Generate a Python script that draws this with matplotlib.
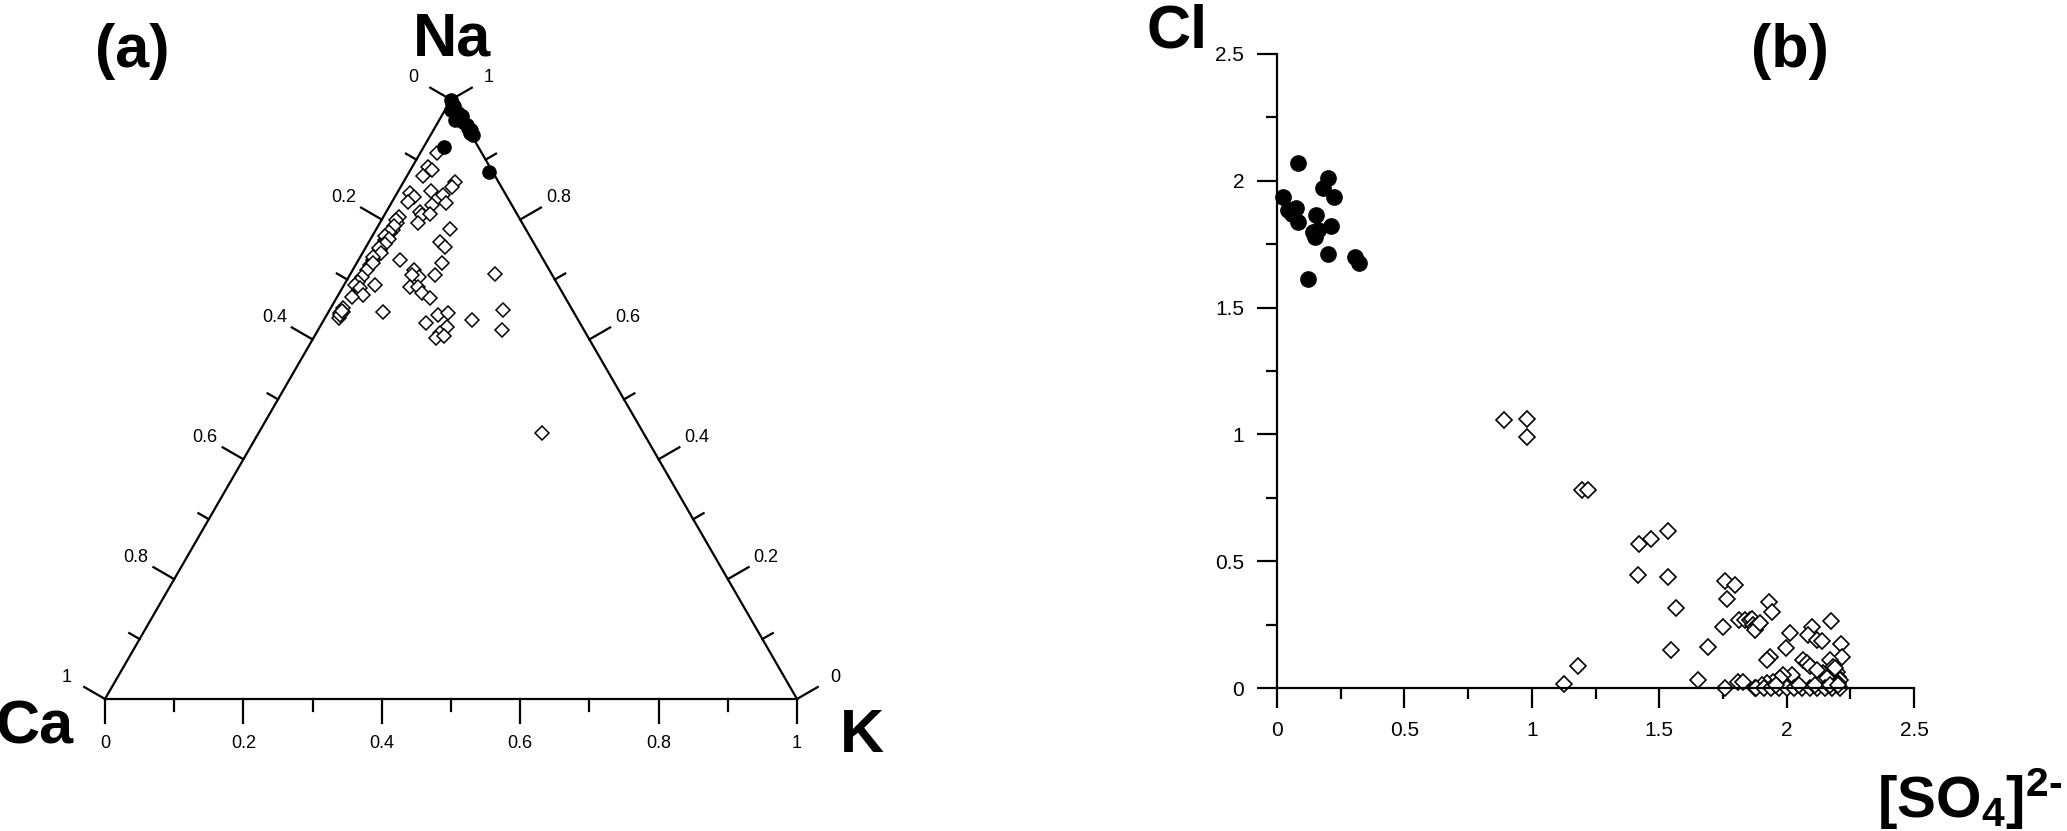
import numpy as np
import matplotlib
matplotlib.use('Agg')
import matplotlib.pyplot as plt
from matplotlib import font_manager
from matplotlib.ticker import MultipleLocator

plt.rcParams['font.family'] = ['Liberation Sans', 'DejaVu Sans']
plt.rcParams['mathtext.fontset'] = 'custom'
plt.rcParams['mathtext.rm'] = 'Liberation Sans'
plt.rcParams['mathtext.bf'] = 'Liberation Sans:bold'

# narrow face for the ternary tick labels, if present
names = {f.name for f in font_manager.fontManager.ttflist}
narrow = 'Liberation Sans Narrow' if 'Liberation Sans Narrow' in names else 'Liberation Sans'

# ---- (a) ternary data: Na and K fractions (Ca = 1 - Na - K) ----
na_circ = [1.00, 0.995, 0.989, 0.982, 0.978, 0.972, 0.966, 0.962, 0.958, 0.953,
           0.949, 0.944, 0.941, 0.921, 0.879]
k_circ = [0.000, 0.004, 0.010, 0.009, 0.021, 0.030, 0.023, 0.036, 0.044, 0.048,
          0.055, 0.055, 0.062, 0.029, 0.115]

na_diam = [0.911, 0.888, 0.883, 0.872, 0.863, 0.855, 0.847, 0.844, 0.838, 0.841,
           0.830, 0.824, 0.827, 0.813, 0.808, 0.810, 0.794, 0.785, 0.763, 0.755,
           0.805, 0.794, 0.783, 0.777, 0.766, 0.758, 0.749, 0.741, 0.733, 0.724,
           0.716, 0.705, 0.696, 0.691, 0.685, 0.674, 0.671, 0.652, 0.644, 0.635,
           0.800, 0.790, 0.780, 0.772, 0.768, 0.760, 0.752, 0.745, 0.738, 0.728,
           0.645, 0.640, 0.648,
           0.691, 0.733, 0.727, 0.708, 0.716, 0.705, 0.708, 0.688, 0.688, 0.677,
           0.669, 0.710, 0.646, 0.627, 0.641, 0.644, 0.621, 0.610, 0.602, 0.605,
           0.632, 0.649, 0.616, 0.444]
k_diam = [0.024, 0.023, 0.031, 0.024, 0.074, 0.074, 0.048, 0.019, 0.027, 0.068,
          0.023, 0.060, 0.079, 0.049, 0.054, 0.065, 0.056, 0.106, 0.103, 0.114,
          0.023, 0.025, 0.025, 0.023, 0.022, 0.021, 0.023, 0.022, 0.021, 0.021,
          0.020, 0.019, 0.018, 0.016, 0.026, 0.036, 0.021, 0.018, 0.018, 0.020,
          0.020, 0.022, 0.020, 0.019, 0.026, 0.025, 0.020, 0.026, 0.019, 0.024,
          0.022, 0.020, 0.019,
          0.045, 0.060, 0.123, 0.123, 0.088, 0.101, 0.090, 0.097, 0.109, 0.119,
          0.135, 0.208, 0.079, 0.151, 0.161, 0.174, 0.183, 0.179, 0.178, 0.187,
          0.214, 0.251, 0.265, 0.410]

tick_vals = [0, 0.1, 0.2, 0.3, 0.4, 0.5, 0.6, 0.7, 0.8, 0.9, 1.0]

# ---- (b) scatter data: SO4 vs Cl ----
so4_circ = [0.084, 0.201, 0.179, 0.224, 0.025, 0.044, 0.075, 0.084, 0.152, 0.142,
            0.162, 0.211, 0.201, 0.306, 0.323, 0.123, 0.060, 0.150]
cl_circ = [2.071, 2.010, 1.970, 1.935, 1.935, 1.885, 1.892, 1.839, 1.865, 1.799,
           1.806, 1.822, 1.711, 1.701, 1.675, 1.612, 1.870, 1.780]

so4_diam = [0.892, 0.982, 0.982, 1.198, 1.222,
            1.533, 1.421, 1.467, 1.417, 1.533, 1.565, 1.548, 1.693, 1.654, 1.183, 1.126,
            1.758, 1.797, 1.767, 1.749, 1.758, 1.810,
            1.814, 1.837, 1.856, 1.863, 1.869, 1.876, 1.889, 1.876, 1.896,
            1.932, 1.941, 2.013, 1.998, 1.935, 1.922,
            2.098, 2.085, 2.118, 2.138, 2.174, 2.213, 2.216,
            2.066, 2.079, 2.092,
            2.170, 2.183, 2.197, 2.203, 2.144, 2.157, 2.118, 2.210, 2.200, 2.190,
            2.020, 1.987, 1.974, 1.948, 1.922, 1.902, 1.876, 1.830,
            1.880, 1.910, 1.940, 1.970, 2.000, 2.030, 2.060, 2.090, 2.120, 2.150,
            2.180, 2.210, 1.960, 2.050, 2.110, 2.170, 2.200]
cl_diam = [1.057, 1.059, 0.988, 0.781, 0.781,
           0.619, 0.568, 0.588, 0.446, 0.437, 0.315, 0.150, 0.160, 0.032, 0.087, 0.016,
           0.423, 0.406, 0.350, 0.239, 0.000, 0.025,
           0.268, 0.268, 0.268, 0.271, 0.248, 0.242, 0.248, 0.229, 0.255,
           0.340, 0.301, 0.216, 0.157, 0.123, 0.110,
           0.242, 0.209, 0.189, 0.185, 0.265, 0.172, 0.121,
           0.110, 0.097, 0.087,
           0.110, 0.084, 0.064, 0.045, 0.058, 0.038, 0.071, 0.030, 0.020, 0.080,
           0.051, 0.051, 0.038, 0.025, 0.019, 0.012, 0.000, 0.025,
           0.000, 0.000, 0.000, 0.000, 0.000, 0.000, 0.000, 0.000, 0.000, 0.000,
           0.000, 0.000, 0.010, 0.010, 0.010, 0.010, 0.010]

W, H = 2067, 831
fig = plt.figure(figsize=(W / 100, H / 100), dpi=100)

# ternary panel, data units: triangle side = 1, Ca at origin
S = 692.0          # side in px
ca_x, ca_y = 105.0, 132.0
axw = 930.0
ax = fig.add_axes([0, 0, axw / W, 1])
ax.set_xlim(-ca_x / S, (axw - ca_x) / S)
ax.set_ylim(-ca_y / S, (H - ca_y) / S)
ax.axis('off')

r3 = np.sqrt(3) / 2


def tern(na, k):
    na = np.asarray(na)
    k = np.asarray(k)
    return k + na / 2, na * r3


ax.plot([0, 1, 0.5, 0], [0, 0, r3, 0], color='black', lw=1.6,
        solid_joinstyle='miter')

big, small, off = 24 / S, 12 / S, 44 / S
for t in tick_vals:
    major = round(t * 10) % 2 == 0
    L = big if major else small
    sides = [((t, 0), (0, -1)),                          # K on bottom
             (((1 - t) / 2, (1 - t) * r3), (-r3, 0.5)),  # Ca on left
             ((1 - t / 2, t * r3), (r3, 0.5))]           # Na on right
    for (px, py), (dx, dy) in sides:
        ax.plot([px, px + L * dx], [py, py + L * dy], color='black', lw=1.6)
        if major:
            ax.text(px + off * dx, py + off * dy, f'{t:g}', ha='center',
                    va='center', fontsize=13, family=narrow)

xd, yd = tern(na_diam, k_diam)
ax.plot(xd, yd, 'D', ms=7.6, mfc='white', mec='black', mew=1.1, ls='none')
xc, yc = tern(na_circ, k_circ)
ax.plot(xc, yc, 'o', ms=9.5, color='black', ls='none')

# scatter panel
ax2 = fig.add_axes([1277 / W, (H - 688) / H, 637 / W, 634 / H])
ax2.plot(so4_diam, cl_diam, 'D', ms=8, mfc='white', mec='black', mew=1.2,
         ls='none', clip_on=False)
ax2.plot(so4_circ, cl_circ, 'o', ms=11, color='black', ls='none', clip_on=False)
ax2.set_xlim(0, 2.5)
ax2.set_ylim(0, 2.5)
for s in ['top', 'right']:
    ax2.spines[s].set_visible(False)
for s in ['left', 'bottom']:
    ax2.spines[s].set_linewidth(1.6)
ax2.xaxis.set_major_locator(MultipleLocator(0.5))
ax2.yaxis.set_major_locator(MultipleLocator(0.5))
ax2.xaxis.set_minor_locator(MultipleLocator(0.25))
ax2.yaxis.set_minor_locator(MultipleLocator(0.25))
ax2.tick_params(which='major', direction='out', length=14.5, width=1.6,
                labelsize=15, pad=9)
ax2.tick_params(which='minor', direction='out', length=8, width=1.6)
ax2.xaxis.set_major_formatter(plt.FuncFormatter(lambda v, p: f'{v:g}'))
ax2.yaxis.set_major_formatter(plt.FuncFormatter(lambda v, p: f'{v:g}'))

# big labels
fs = 44
fig.text(132 / W, 1 - 52 / H, '(a)', ha='center', va='center', fontsize=fs,
         fontweight='bold')
fig.text(1790 / W, 1 - 52 / H, '(b)', ha='center', va='center', fontsize=fs,
         fontweight='bold')
fig.text(452 / W, 1 - 55 / H, 'Na', ha='center', va='baseline', fontsize=fs,
         fontweight='bold')
fig.text(74 / W, 1 - 743 / H, 'Ca', ha='right', va='baseline', fontsize=fs,
         fontweight='bold')
fig.text(840 / W, 1 - 752 / H, 'K', ha='left', va='baseline', fontsize=fs,
         fontweight='bold')
fig.text(1208 / W, 1 - 47 / H, 'Cl', ha='right', va='baseline', fontsize=fs,
         fontweight='bold')
fig.text(2062 / W, 1 - 818 / H, r'$\mathbf{[SO_4]^{2\u2010}}$'.encode().decode('unicode_escape'),
         ha='right', va='baseline', fontsize=42)

fig.savefig('out.png', dpi=100)
